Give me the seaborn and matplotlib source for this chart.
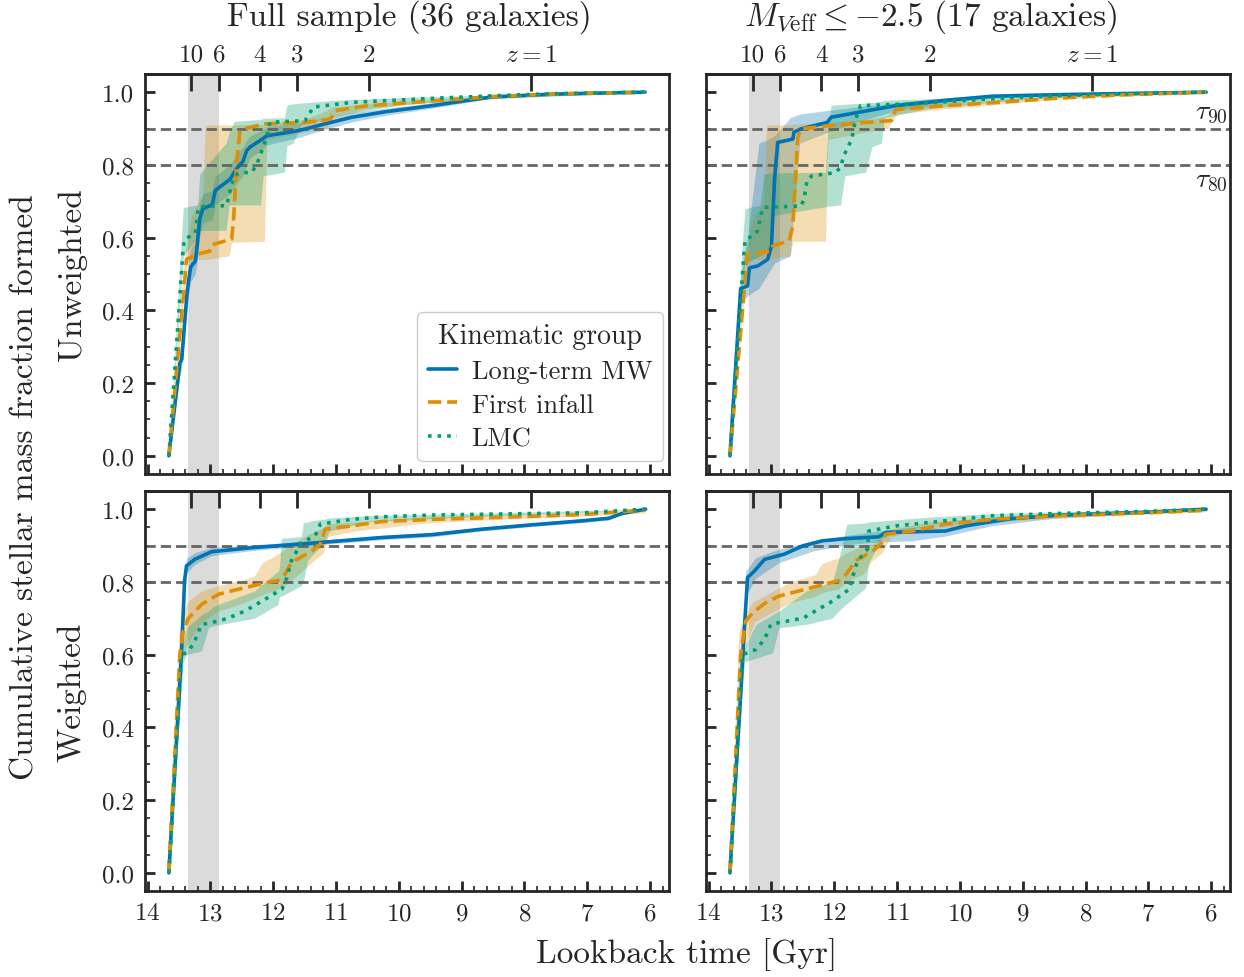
import matplotlib
matplotlib.use("Agg")
import matplotlib.pyplot as plt
from matplotlib.ticker import MultipleLocator, NullLocator, FormatStrFormatter
import seaborn as sns

# ---------------------------------------------------------------------------
# Cumulative star-formation histories (lookback time in Gyr, mass fraction)
# Panels: (row, col) -> row 0 = unweighted, row 1 = weighted;
#                       col 0 = full sample, col 1 = M_V,eff <= -2.5
# ---------------------------------------------------------------------------
groups = ["Long-term MW", "First infall", "LMC"]

# ---- unweighted, full sample ----
ul_mw_t = [13.66, 13.485, 13.455, 13.37, 13.33, 13.31, 13.24, 13.22, 13.17, 13.12, 12.97, 12.92, 12.69, 12.58,
           12.48, 12.42, 12.36, 12.18, 12.10, 11.60, 11.17, 10.75, 10.22, 9.47, 8.52, 7.50, 6.08]
ul_mw_f = [0.00, 0.255, 0.265, 0.45, 0.50, 0.52, 0.535, 0.56, 0.65, 0.68, 0.69, 0.73, 0.76, 0.79,
           0.81, 0.84, 0.85, 0.87, 0.88, 0.894, 0.913, 0.931, 0.946, 0.963, 0.987, 0.995, 1.0]
ul_mw_bt = ul_mw_t
ul_mw_lo = [0.00, 0.22, 0.24, 0.41, 0.46, 0.48, 0.50, 0.52, 0.60, 0.64, 0.65, 0.69, 0.72, 0.75,
            0.77, 0.80, 0.82, 0.84, 0.855, 0.875, 0.898, 0.918, 0.936, 0.956, 0.983, 0.993, 1.0]
ul_mw_hi = [0.00, 0.29, 0.30, 0.49, 0.55, 0.57, 0.59, 0.61, 0.69, 0.72, 0.73, 0.77, 0.80, 0.83,
            0.85, 0.87, 0.88, 0.895, 0.905, 0.915, 0.93, 0.944, 0.956, 0.971, 0.991, 0.997, 1.0]

ul_fi_t = [13.66, 13.405, 13.38, 13.22, 13.01, 12.98, 12.66, 12.63, 12.58, 12.53, 12.47, 12.13, 11.49, 11.09,
           11.01, 10.54, 9.47, 8.5, 7.5, 6.08]
ul_fi_f = [0.00, 0.485, 0.54, 0.554, 0.563, 0.58, 0.596, 0.65, 0.81, 0.89, 0.899, 0.913, 0.917, 0.926,
           0.949, 0.962, 0.976, 0.988, 0.995, 1.0]
ul_fi_bt = [13.66, 13.42, 13.36, 13.30, 13.12, 13.08, 12.70, 12.66, 12.14, 12.10, 11.50, 11.15, 11.05,
            10.5, 9.5, 8.5, 6.08]
ul_fi_lo = [0.00, 0.44, 0.53, 0.54, 0.54, 0.54, 0.55, 0.587, 0.59, 0.87, 0.89, 0.90, 0.93,
            0.955, 0.972, 0.985, 1.0]
ul_fi_hi = [0.00, 0.53, 0.60, 0.66, 0.72, 0.91, 0.91, 0.91, 0.912, 0.913, 0.925, 0.95, 0.96,
            0.968, 0.98, 0.99, 1.0]

ul_lmc_t = [13.66, 13.43, 13.405, 13.24, 13.19, 13.09, 12.74, 12.68, 12.62, 12.52, 12.34, 12.26, 12.15, 12.10,
            12.05, 11.49, 11.44, 11.36, 10.75, 9.47, 8.5, 7.5, 6.08]
ul_lmc_f = [0.00, 0.577, 0.596, 0.612, 0.683, 0.686, 0.688, 0.733, 0.77, 0.779, 0.779, 0.802, 0.853, 0.88,
            0.917, 0.922, 0.936, 0.959, 0.972, 0.983, 0.99, 0.996, 1.0]
ul_lmc_bt = [13.66, 13.45, 13.43, 13.20, 13.17, 12.75, 12.70, 12.62, 12.20, 12.16, 11.82, 11.78, 11.68,
             11.56, 11.00, 10.0, 9.0, 6.08]
ul_lmc_lo = [0.00, 0.50, 0.55, 0.60, 0.62, 0.62, 0.69, 0.69, 0.69, 0.77, 0.78, 0.853, 0.86,
             0.91, 0.935, 0.965, 0.978, 1.0]
ul_lmc_hi = [0.00, 0.63, 0.683, 0.69, 0.775, 0.86, 0.89, 0.92, 0.925, 0.928, 0.93, 0.965, 0.968,
             0.97, 0.978, 0.985, 0.99, 1.0]

# ---- unweighted, bright subsample ----
ur_mw_t = [13.66, 13.49, 13.38, 13.35, 13.22, 13.06, 13.00, 12.95, 12.90, 12.66, 12.64, 12.53, 12.11, 12.05,
           11.60, 11.02, 10.2, 9.48, 8.5, 7.5, 6.08]
ur_mw_f = [0.00, 0.46, 0.467, 0.517, 0.522, 0.54, 0.577, 0.761, 0.862, 0.871, 0.89, 0.899, 0.917, 0.931,
           0.945, 0.963, 0.978, 0.989, 0.993, 0.996, 1.0]
ur_mw_bt = [13.66, 13.49, 13.38, 13.20, 13.06, 12.95, 12.70, 12.55, 12.10, 11.6, 11.0, 10.2, 9.5, 8.5, 6.08]
ur_mw_lo = [0.00, 0.42, 0.44, 0.46, 0.50, 0.53, 0.55, 0.86, 0.89, 0.92, 0.95, 0.97, 0.983, 0.99, 1.0]
ur_mw_hi = [0.00, 0.50, 0.60, 0.86, 0.87, 0.88, 0.93, 0.94, 0.95, 0.96, 0.972, 0.985, 0.993, 0.996, 1.0]

ur_fi_t = [13.66, 13.40, 13.38, 13.01, 12.98, 12.72, 12.66, 12.58, 12.53, 12.08, 11.49, 11.09, 11.02, 10.23,
           9.47, 8.5, 7.5, 6.08]
ur_fi_f = [0.00, 0.522, 0.554, 0.563, 0.577, 0.591, 0.632, 0.876, 0.899, 0.908, 0.917, 0.922, 0.952, 0.963,
           0.971, 0.983, 0.992, 1.0]
ur_fi_bt = [13.66, 13.42, 13.36, 13.30, 13.12, 13.08, 12.70, 12.66, 12.14, 12.10, 11.50, 11.15, 11.0,
            10.2, 9.5, 8.5, 6.08]
ur_fi_lo = [0.00, 0.47, 0.53, 0.54, 0.54, 0.54, 0.55, 0.59, 0.59, 0.87, 0.89, 0.90, 0.94,
            0.955, 0.965, 0.98, 1.0]
ur_fi_hi = [0.00, 0.56, 0.60, 0.65, 0.70, 0.91, 0.91, 0.912, 0.915, 0.916, 0.925, 0.935, 0.962,
            0.97, 0.978, 0.988, 1.0]

ur_lmc_t = [13.66, 13.43, 13.41, 13.28, 13.22, 13.14, 12.53, 12.48, 12.43, 12.35, 11.98, 11.90, 11.85, 11.72,
            11.66, 11.58, 10.76, 9.48, 8.5, 7.5, 6.08]
ur_lmc_f = [0.00, 0.577, 0.596, 0.605, 0.619, 0.683, 0.687, 0.706, 0.761, 0.77, 0.779, 0.793, 0.825, 0.871,
            0.926, 0.963, 0.968, 0.982, 0.99, 0.995, 1.0]
ur_lmc_bt = [13.66, 13.45, 13.42, 13.18, 13.12, 13.05, 13.00, 12.14, 12.10, 12.05, 11.90, 11.83, 11.50,
             11.40, 11.25, 11.20, 10.5, 9.5, 8.5, 6.08]
ur_lmc_lo = [0.00, 0.50, 0.53, 0.55, 0.56, 0.56, 0.66, 0.685, 0.687, 0.687, 0.69, 0.77, 0.78,
             0.85, 0.86, 0.93, 0.955, 0.972, 0.985, 1.0]
ur_lmc_hi = [0.00, 0.62, 0.68, 0.69, 0.775, 0.777, 0.778, 0.78, 0.90, 0.965, 0.966, 0.967, 0.97,
             0.972, 0.975, 0.978, 0.982, 0.988, 0.993, 1.0]

# ---- weighted, full sample ----
wl_mw_t = [13.66, 13.46, 13.41, 13.38, 13.25, 12.98, 12.34, 11.28, 10.27, 9.47, 8.68, 7.88, 7.08, 6.66,
           6.45, 6.07]
wl_mw_f = [0.00, 0.60, 0.803, 0.844, 0.862, 0.883, 0.894, 0.908, 0.922, 0.930, 0.945, 0.957, 0.968, 0.975,
           0.988, 1.0]
wl_mw_bt = wl_mw_t
wl_mw_lo = [0.00, 0.58, 0.78, 0.825, 0.848, 0.872, 0.886, 0.902, 0.916, 0.924, 0.94, 0.952, 0.963, 0.97,
            0.984, 1.0]
wl_mw_hi = [0.00, 0.62, 0.83, 0.865, 0.88, 0.895, 0.902, 0.914, 0.928, 0.936, 0.95, 0.962, 0.973, 0.98,
            0.992, 1.0]

wl_fi_t = [13.66, 13.485, 13.43, 13.35, 13.14, 12.87, 12.55, 12.18, 11.92, 11.81, 11.71, 11.38, 11.25, 11.17,
           10.75, 10.27, 9.47, 8.68, 7.08, 6.07]
wl_fi_f = [0.00, 0.60, 0.665, 0.70, 0.738, 0.766, 0.78, 0.795, 0.804, 0.821, 0.853, 0.885, 0.904, 0.945,
           0.954, 0.966, 0.972, 0.976, 0.985, 0.998]
wl_fi_bt = [13.66, 13.50, 13.45, 13.35, 13.14, 12.87, 12.50, 12.30, 12.17, 11.98, 11.81, 11.60, 11.45,
            11.20, 11.12, 10.7, 9.5, 8.0, 6.07]
wl_fi_lo = [0.00, 0.55, 0.59, 0.637, 0.69, 0.72, 0.74, 0.755, 0.765, 0.775, 0.79, 0.82, 0.844,
            0.88, 0.925, 0.94, 0.963, 0.975, 0.99]
wl_fi_hi = [0.00, 0.66, 0.72, 0.747, 0.775, 0.79, 0.805, 0.816, 0.853, 0.871, 0.89, 0.915, 0.93,
            0.95, 0.96, 0.965, 0.98, 0.988, 1.0]

wl_lmc_t = [13.66, 13.46, 13.38, 13.27, 13.14, 12.98, 12.72, 12.45, 12.18, 11.86, 11.78, 11.71, 11.55, 11.33,
            11.25, 10.75, 10.27, 9.47, 8.68, 7.08, 6.07]
wl_lmc_f = [0.00, 0.60, 0.605, 0.628, 0.683, 0.688, 0.70, 0.72, 0.747, 0.78, 0.812, 0.858, 0.908, 0.927,
            0.959, 0.972, 0.979, 0.984, 0.986, 0.99, 1.0]
wl_lmc_bt = [13.66, 13.43, 13.38, 13.14, 13.03, 12.93, 12.30, 11.92, 11.90, 11.87, 11.55, 11.52, 11.45,
             11.40, 11.20, 11.10, 10.5, 9.0, 6.07]
wl_lmc_lo = [0.00, 0.58, 0.60, 0.61, 0.675, 0.68, 0.70, 0.738, 0.76, 0.76, 0.79, 0.80, 0.86,
             0.87, 0.904, 0.94, 0.965, 0.978, 1.0]
wl_lmc_hi = [0.00, 0.64, 0.674, 0.71, 0.72, 0.735, 0.775, 0.83, 0.84, 0.92, 0.925, 0.963, 0.965,
             0.968, 0.972, 0.976, 0.982, 0.988, 1.0]

# ---- weighted, bright subsample ----
wr_mw_t = [13.66, 13.49, 13.43, 13.38, 13.27, 13.11, 12.80, 12.50, 12.19, 11.82, 11.29, 11.18, 10.23, 9.91,
           9.48, 9.17, 8.5, 7.0, 6.08]
wr_mw_f = [0.00, 0.49, 0.674, 0.812, 0.83, 0.862, 0.876, 0.899, 0.913, 0.919, 0.924, 0.936, 0.94, 0.954,
           0.966, 0.974, 0.983, 0.992, 1.0]
wr_mw_bt = [13.66, 13.49, 13.43, 13.41, 13.25, 12.88, 12.34, 11.72, 11.29, 10.76, 10.23, 9.48, 8.5, 7.0, 6.08]
wr_mw_lo = [0.00, 0.46, 0.62, 0.76, 0.81, 0.853, 0.885, 0.904, 0.91, 0.913, 0.926, 0.955, 0.975, 0.988, 1.0]
wr_mw_hi = [0.00, 0.52, 0.74, 0.83, 0.867, 0.89, 0.913, 0.93, 0.94, 0.95, 0.96, 0.977, 0.99, 0.996, 1.0]

wr_fi_t = [13.66, 13.49, 13.41, 13.30, 13.09, 12.88, 12.45, 11.92, 11.81, 11.66, 11.39, 11.26, 11.18, 10.76,
           10.23, 9.48, 8.5, 7.0, 6.08]
wr_fi_f = [0.00, 0.60, 0.692, 0.715, 0.743, 0.761, 0.78, 0.804, 0.821, 0.858, 0.885, 0.904, 0.931, 0.94,
           0.959, 0.972, 0.982, 0.99, 0.997]
wr_fi_bt = [13.66, 13.52, 13.43, 13.36, 13.27, 12.70, 12.30, 12.20, 12.08, 11.93, 11.81, 11.55, 11.40,
            11.24, 11.10, 10.5, 9.5, 8.0, 6.08]
wr_fi_lo = [0.00, 0.55, 0.61, 0.65, 0.69, 0.743, 0.76, 0.77, 0.775, 0.78, 0.80, 0.82, 0.858,
            0.88, 0.925, 0.945, 0.965, 0.98, 0.993]
wr_fi_hi = [0.00, 0.66, 0.71, 0.73, 0.747, 0.80, 0.82, 0.85, 0.858, 0.866, 0.88, 0.90, 0.904,
            0.925, 0.945, 0.965, 0.978, 0.99, 1.0]

wr_lmc_t = [13.66, 13.46, 13.25, 13.11, 13.01, 12.88, 12.50, 12.35, 12.03, 11.76, 11.71, 11.63, 11.47, 11.45,
            11.02, 10.23, 9.48, 8.5, 7.0, 6.08]
wr_lmc_f = [0.00, 0.60, 0.614, 0.642, 0.683, 0.688, 0.70, 0.715, 0.747, 0.78, 0.812, 0.858, 0.89, 0.94,
            0.954, 0.968, 0.982, 0.988, 0.994, 1.0]
wr_lmc_bt = [13.66, 13.43, 13.25, 12.98, 12.88, 12.45, 12.03, 11.93, 11.80, 11.50, 11.45, 11.24, 11.08,
             10.5, 9.5, 8.0, 6.08]
wr_lmc_lo = [0.00, 0.58, 0.59, 0.605, 0.674, 0.683, 0.70, 0.72, 0.74, 0.784, 0.853, 0.92, 0.935,
             0.955, 0.97, 0.985, 1.0]
wr_lmc_hi = [0.00, 0.62, 0.683, 0.71, 0.72, 0.775, 0.80, 0.862, 0.959, 0.962, 0.965, 0.968, 0.97,
             0.978, 0.988, 0.994, 1.0]

# Redshift markers on the top axis (lookback time of each z)
z_labels = ["10", "6", "4", "3", "2", r"$z=1$"]
z_lookback = [13.30, 12.86, 12.21, 11.62, 10.48, 7.89]

# Epoch of reionization shading and threshold levels
reion_span = (13.35, 12.86)
tau_levels = [0.9, 0.8]
tau_labels = [r"$\tau_{90}$", r"$\tau_{80}$"]

panel_titles = ["Full sample (36 galaxies)", r"$M_{V\mathrm{eff}} \leq {-}2.5$ (17 galaxies)"]
row_labels = ["Unweighted", "Weighted"]

panels = {
    (0, 0): [(ul_mw_t, ul_mw_f, ul_mw_bt, ul_mw_lo, ul_mw_hi),
             (ul_fi_t, ul_fi_f, ul_fi_bt, ul_fi_lo, ul_fi_hi),
             (ul_lmc_t, ul_lmc_f, ul_lmc_bt, ul_lmc_lo, ul_lmc_hi)],
    (0, 1): [(ur_mw_t, ur_mw_f, ur_mw_bt, ur_mw_lo, ur_mw_hi),
             (ur_fi_t, ur_fi_f, ur_fi_bt, ur_fi_lo, ur_fi_hi),
             (ur_lmc_t, ur_lmc_f, ur_lmc_bt, ur_lmc_lo, ur_lmc_hi)],
    (1, 0): [(wl_mw_t, wl_mw_f, wl_mw_bt, wl_mw_lo, wl_mw_hi),
             (wl_fi_t, wl_fi_f, wl_fi_bt, wl_fi_lo, wl_fi_hi),
             (wl_lmc_t, wl_lmc_f, wl_lmc_bt, wl_lmc_lo, wl_lmc_hi)],
    (1, 1): [(wr_mw_t, wr_mw_f, wr_mw_bt, wr_mw_lo, wr_mw_hi),
             (wr_fi_t, wr_fi_f, wr_fi_bt, wr_fi_lo, wr_fi_hi),
             (wr_lmc_t, wr_lmc_f, wr_lmc_bt, wr_lmc_lo, wr_lmc_hi)],
}

# ---------------------------------------------------------------------------
sns.set_theme(style="ticks", palette="colorblind")
plt.rcParams.update({
    "font.family": "serif",
    "font.serif": ["cmr10"],
    "mathtext.fontset": "cm",
    "axes.formatter.use_mathtext": True,
    "axes.unicode_minus": False,
    "text.color": "#262626",
    "axes.edgecolor": "#262626",
    "axes.linewidth": 2.0,
    "xtick.color": "#262626",
    "ytick.color": "#262626",
})

colors = sns.color_palette("colorblind")[:3]
styles = ["-", "--", ":"]
TICK_FS = 18
LABEL_FS = 24

fig, axes = plt.subplots(2, 2, figsize=(12.44, 9.78), dpi=100, sharex=True, sharey=True)
fig.subplots_adjust(left=145 / 1244, right=1230 / 1244, top=1 - 75 / 978, bottom=1 - 892 / 978,
                    wspace=0.071, hspace=0.0425)

for (r, c), series in panels.items():
    ax = axes[r, c]
    ax.axvspan(*reion_span, color="0.6", alpha=0.35, lw=0, zorder=0)
    for lvl in tau_levels:
        ax.axhline(lvl, color="0.4", lw=2.0, ls=(0, (3.7, 1.8)), zorder=1.5)
    for name, col, ls, (t, f, bt, lo, hi) in zip(groups, colors, styles, series):
        ax.fill_between(bt, lo, hi, color=col, alpha=0.3, lw=0, zorder=1)
        sns.lineplot(x=t, y=f, ax=ax, color=col, lw=2.6, linestyle=ls,
                     estimator=None, sort=False, label=name, legend=False, zorder=3)

    ax.set_xlim(14.04, 5.70)
    ax.set_ylim(-0.05, 1.05)
    ax.xaxis.set_major_locator(MultipleLocator(1))
    ax.xaxis.set_minor_locator(MultipleLocator(0.2))
    ax.yaxis.set_major_locator(MultipleLocator(0.2))
    ax.yaxis.set_minor_locator(MultipleLocator(0.05))
    ax.tick_params(which="both", direction="in", top=False, right=False,
                   labelsize=TICK_FS, pad=8)
    ax.tick_params(which="major", length=7, width=2)
    ax.tick_params(which="minor", length=3.5, width=1.2)
    ax.set_xlabel("")
    ax.set_ylabel("")
    ax.yaxis.set_major_formatter(FormatStrFormatter("%.1f"))

    sec = ax.secondary_xaxis("top")
    sec.set_xticks(z_lookback, labels=z_labels if r == 0 else [""] * len(z_labels))
    sec.xaxis.set_minor_locator(NullLocator())
    sec.tick_params(direction="in", length=12, width=2, labelsize=TICK_FS, pad=6)
    sec.spines["top"].set_linewidth(2.0)

# Threshold labels
ax = axes[0, 1]
ax.text(5.74, 0.91, tau_labels[0], ha="right", va="bottom", fontsize=20)
ax.text(5.74, 0.795, tau_labels[1], ha="right", va="top", fontsize=20)

# Legend
axes[0, 0].legend(title="Kinematic group", loc="lower right", bbox_to_anchor=(0.9885, 0.0325),
                  borderaxespad=0, fontsize=19, title_fontsize=20, handlelength=1.1,
                  handletextpad=0.55, labelspacing=0.38, frameon=True, fancybox=True,
                  edgecolor="0.8", framealpha=1.0, borderpad=0.4)

# Titles and labels
fig.text(409 / 1244, 1 - 17 / 978, panel_titles[0], ha="center", va="center", fontsize=LABEL_FS)
fig.text(930 / 1244, 1 - 17 / 978, panel_titles[1], ha="center", va="center", fontsize=LABEL_FS)
fig.text(72 / 1244, 1 - 275 / 978, row_labels[0], rotation=90, ha="center", va="center", fontsize=LABEL_FS)
fig.text(72 / 1244, 1 - 692 / 978, row_labels[1], rotation=90, ha="center", va="center", fontsize=LABEL_FS)
fig.text(25 / 1244, 1 - 487 / 978, "Cumulative stellar mass fraction formed", rotation=90,
         ha="center", va="center", fontsize=LABEL_FS)
fig.text(687 / 1244, 1 - 955 / 978, "Lookback time [Gyr]", ha="center", va="center", fontsize=LABEL_FS)

fig.savefig("out.png", dpi=100)
